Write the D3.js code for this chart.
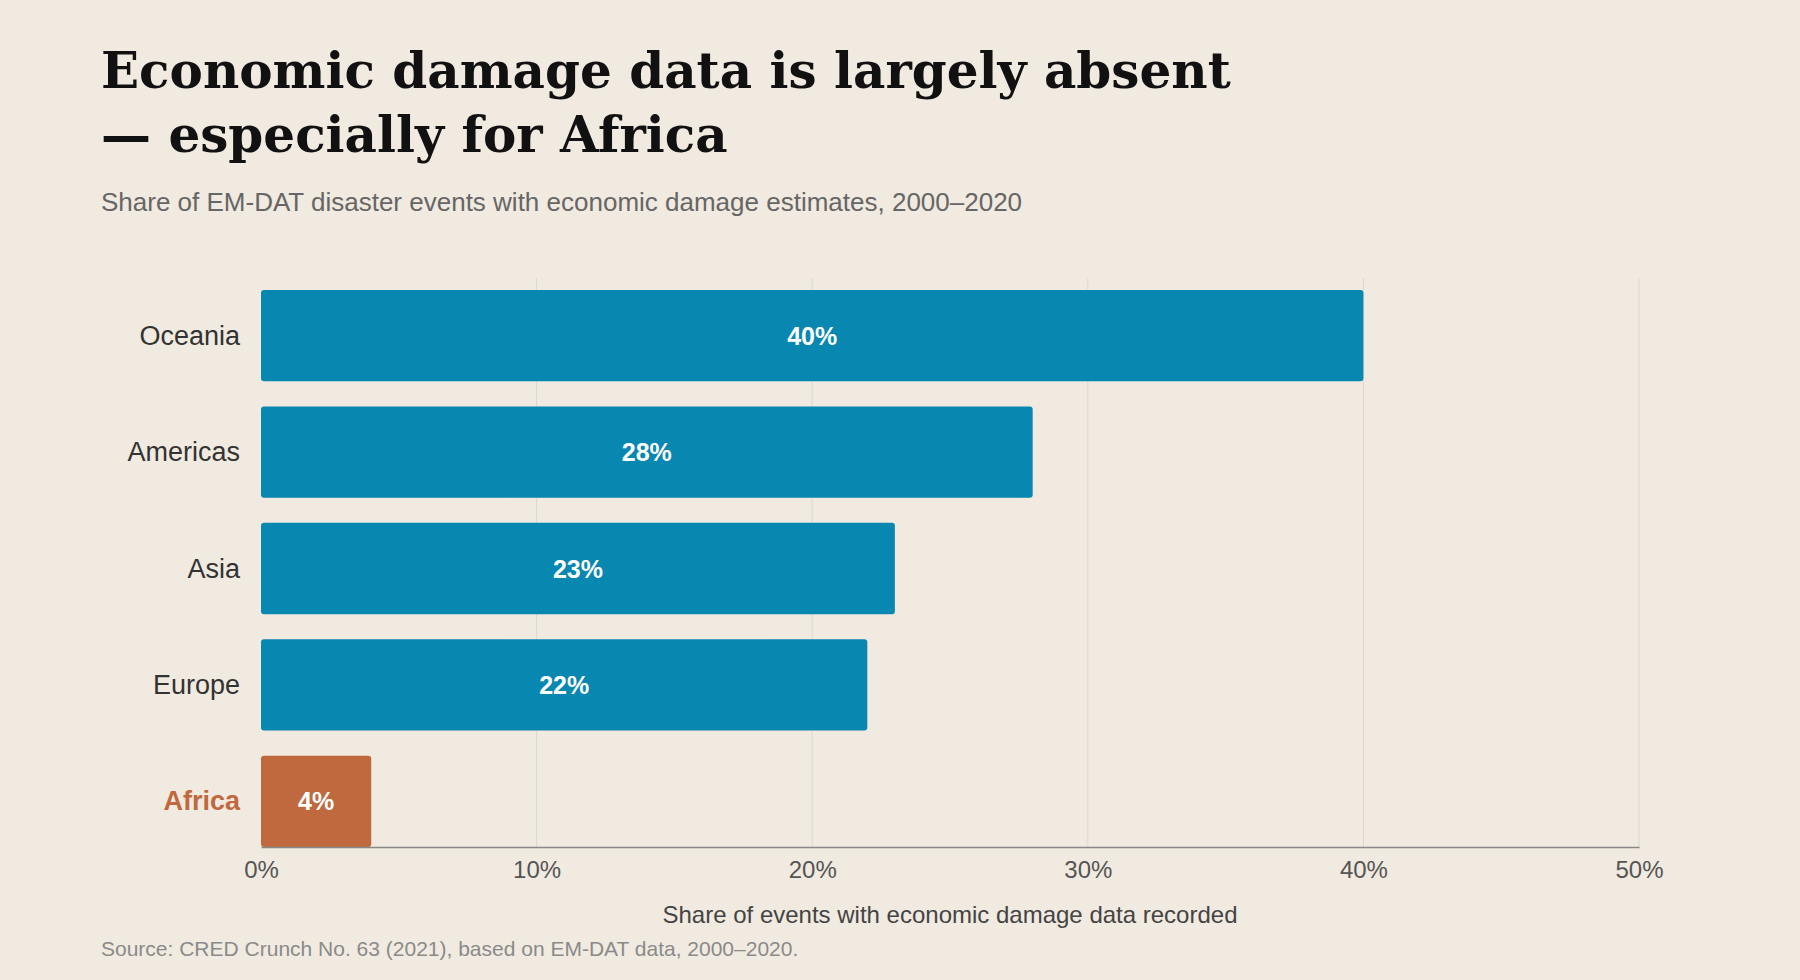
<!DOCTYPE html>
<html>
<head>
<meta charset="utf-8">
<script src="https://cdn.jsdelivr.net/npm/d3@7"></script>
<style>
  body { margin: 0; background: #f1eae0; }
  svg { display: block; }
</style>
</head>
<body>
<svg id="chart" width="1800" height="980"></svg>
<script>
const regions = ["Oceania", "Americas", "Asia", "Europe", "Africa"];
const shares = [40, 28, 23, 22, 4];
const ticks = [0, 10, 20, 30, 40, 50];
const highlight = "Africa";

const blue = "#0887b0", rust = "#c0693f";
const svg = d3.select("#chart");

svg.append("rect").attr("width", 1800).attr("height", 980).attr("fill", "#f1eae0");

const title = svg.append("text")
    .attr("x", 101).attr("y", 88)
    .attr("font-family", "DejaVu Serif, Georgia, serif")
    .attr("font-weight", "bold").attr("font-size", 50).attr("fill", "#111");
title.append("tspan").attr("x", 101).text("Economic damage data is largely absent");
title.append("tspan").attr("x", 101).attr("dy", 64).text("— especially for Africa");

svg.append("text")
    .attr("x", 101).attr("y", 211)
    .attr("font-family", "Liberation Sans, Arial, sans-serif")
    .attr("font-size", 26).attr("fill", "#666")
    .text("Share of EM-DAT disaster events with economic damage estimates, 2000–2020");

const x = d3.scaleLinear().domain([0, 50]).range([261, 1639]);
const y = d3.scaleBand().domain(regions).range([290, 847]).paddingInner(0.216).paddingOuter(0);

svg.append("g").selectAll("line").data(ticks.slice(1)).join("line")
    .attr("x1", d => x(d)).attr("x2", d => x(d))
    .attr("y1", 278).attr("y2", 847)
    .attr("stroke", "#dcd8d0").attr("stroke-width", 1);

const data = regions.map((r, i) => ({ region: r, value: shares[i] }));

svg.append("g").selectAll("rect").data(data).join("rect")
    .attr("x", x(0)).attr("y", d => y(d.region))
    .attr("width", d => x(d.value) - x(0))
    .attr("height", y.bandwidth())
    .attr("rx", 3)
    .attr("fill", d => d.region === highlight ? rust : blue);

svg.append("g").selectAll("text").data(data).join("text")
    .attr("x", d => (x(0) + x(d.value)) / 2)
    .attr("y", d => y(d.region) + y.bandwidth() / 2 + 9)
    .attr("text-anchor", "middle")
    .attr("font-family", "Liberation Sans, Arial, sans-serif")
    .attr("font-weight", "bold").attr("font-size", 25).attr("fill", "#fff")
    .text(d => d.value + "%");

svg.append("g").selectAll("text").data(data).join("text")
    .attr("x", 240)
    .attr("y", d => y(d.region) + y.bandwidth() / 2 + 9)
    .attr("text-anchor", "end")
    .attr("font-family", "Liberation Sans, Arial, sans-serif")
    .attr("font-size", 27)
    .attr("font-weight", d => d.region === highlight ? "bold" : "normal")
    .attr("fill", d => d.region === highlight ? rust : "#333")
    .text(d => d.region);

const axis = svg.append("g").attr("transform", "translate(0,847)")
    .call(d3.axisBottom(x).tickValues(ticks).tickSize(0).tickPadding(14).tickFormat(d => d + "%"));
axis.select(".domain").attr("stroke", "#888").attr("stroke-width", 1.5);
axis.selectAll("text")
    .attr("font-family", "Liberation Sans, Arial, sans-serif")
    .attr("font-size", 24).attr("fill", "#555");

svg.append("text")
    .attr("x", (x(0) + x(50)) / 2).attr("y", 923)
    .attr("text-anchor", "middle")
    .attr("font-family", "Liberation Sans, Arial, sans-serif")
    .attr("font-size", 24).attr("fill", "#444")
    .text("Share of events with economic damage data recorded");

svg.append("text")
    .attr("x", 101).attr("y", 956)
    .attr("font-family", "Liberation Sans, Arial, sans-serif")
    .attr("font-size", 21).attr("fill", "#8a8a8a")
    .text("Source: CRED Crunch No. 63 (2021), based on EM-DAT data, 2000–2020.");
</script>
</body>
</html>
